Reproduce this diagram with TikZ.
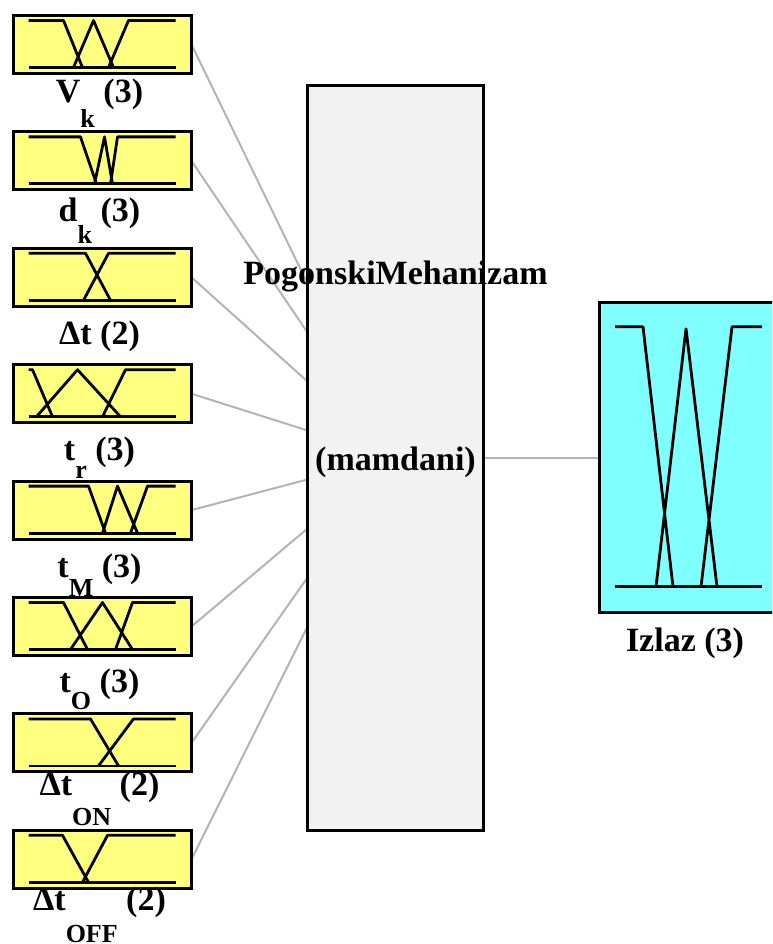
\documentclass[tikz,border=0pt]{standalone}
\usepackage{fontspec}
\setmainfont{Liberation Serif}
\usetikzlibrary{positioning,backgrounds}
\definecolor{mfyellow}{RGB}{255,255,128}
\definecolor{mfcyan}{RGB}{128,255,255}
\definecolor{fisgray}{RGB}{242,242,242}
\definecolor{linkgray}{RGB}{180,180,180}
% subscript set well below the baseline
\newcommand{\lowsub}[2]{\raisebox{-#1pt}{\fontsize{26}{26}\selectfont #2}}
% membership functions inside a box, coordinates from its north west corner
\newcommand{\mfdraw}[3]{%
  \begin{scope}[shift={(#1.north west)}]
    \draw[mf] (15,#2) -- (162,#2);
    \draw[mf] #3;
  \end{scope}}

\begin{document}
\begin{tikzpicture}[x=1pt, y=-1pt, node distance=58.4pt,
    inbox/.style={draw, line width=3pt, fill=mfyellow, minimum width=178pt, minimum height=58pt, inner sep=0pt, outer sep=0pt},
    mf/.style={line width=2.8pt, line join=round},
    link/.style={draw=linkgray, line width=2pt},
    lbl/.style={font=\fontsize{34}{40}\selectfont\bfseries, inner sep=0pt, anchor=base}]
  \useasboundingbox (0,0) rectangle (772,944);
  \clip (0,0) rectangle (772,944);

  % inputs
  \node[inbox] (vk) at (102.5,44.5) {};
  \node[inbox, below=of vk] (dk) {};
  \node[inbox, below=of dk] (dt) {};
  \node[inbox, below=of dt] (tr) {};
  \node[inbox, below=of tr] (tM) {};
  \node[inbox, below=of tM] (tO) {};
  \node[inbox, below=of tO] (dton) {};
  \node[inbox, below=of dton] (dtoff) {};

  % rule block and output
  \node[draw, line width=3pt, fill=fisgray, minimum width=176pt, minimum height=744.5pt, inner sep=0pt, outer sep=0pt] (mech) at (395.5,457.75) {};
  \node[draw, line width=3pt, fill=mfcyan, minimum width=179pt, minimum height=310pt, inner sep=0pt, outer sep=0pt, right=115.5pt of mech] (izlaz) {};

  \mfdraw{vk}{52}{(15,5) -- (50,5) -- (69,52) (60,52) -- (80,5) -- (100,52) (95,52) -- (115,5) -- (162,5)}
  \mfdraw{dk}{52}{(15,5) -- (67,5) -- (83,52) (81,52) -- (91,5) -- (99,52) (97,52) -- (104,5) -- (162,5)}
  \mfdraw{dt}{52}{(15,5) -- (72,5) -- (97,52) (70,52) -- (95,5) -- (162,5)}
  \mfdraw{tr}{52}{(15,5) -- (19,5) -- (39,52) (23,52) -- (64,5) -- (107,52) (89,52) -- (112,5) -- (162,5)}
  \mfdraw{tM}{52}{(15,5) -- (75,5) -- (92,52) (89,52) -- (104,5) -- (124,52) (117,52) -- (134,5) -- (162,5)}
  \mfdraw{tO}{52}{(15,5) -- (50,5) -- (74,52) (57,52) -- (89,5) -- (119,52) (102,52) -- (119,5) -- (162,5)}
  \mfdraw{dton}{52}{(15,5) -- (77,5) -- (105,52) (85,52) -- (120,5) -- (162,5)}
  \mfdraw{dtoff}{52}{(15,5) -- (49,5) -- (75,52) (69,52) -- (94,5) -- (162,5)}
  \begin{scope}[shift={(izlaz.north west)}]
    \draw[mf] (16,284) -- (163,284);
    \draw[mf] (16,24) -- (44,24) -- (74,284) (57,284) -- (87,26) -- (118,284) (102,284) -- (133,24) -- (163,24);
  \end{scope}

  % labels
  \node[lbl] (vklbl) at ([shift={(-3,29)}]vk.south) {V\lowsub{25}{k} (3)};
  \node[lbl] (dklbl) at ([shift={(-3,32)}]dk.south) {d\lowsub{22}{k} (3)};
  \node[lbl] (dtlbl) at ([shift={(-3,38)}]dt.south) {Δt (2)};
  \node[lbl] (trlbl) at ([shift={(-3,38)}]tr.south) {t\lowsub{18}{r} (3)};
  \node[lbl] (tMlbl) at ([shift={(-3,38)}]tM.south) {t\lowsub{19}{M} (3)};
  \node[lbl] (tOlbl) at ([shift={(-3,37)}]tO.south) {t\lowsub{17}{O} (3)};
  \node[lbl] (dtonlbl) at ([shift={(-3,24)}]dton.south) {Δt\lowsub{30}{ON} (2)};
  \node[lbl] (dtofflbl) at ([shift={(-3,22)}]dtoff.south) {Δt\lowsub{32}{OFF} (2)};
  \node[lbl] (izlazlbl) at ([shift={(-3.5,39)}]izlaz.south) {Izlaz (3)};
  \node[lbl] (mechname) at ([shift={(0,199)}]mech.north) {PogonskiMehanizam};
  \node[lbl] (mechtype) at ([shift={(0,384.5)}]mech.north) {(mamdani)};

  % connectors
  \begin{scope}[on background layer]
    \foreach \n [count=\i from 0] in {vk,dk,dt,tr,tM,tO,dton,dtoff}
      \draw[link] (\n.east) -- ([shift={(0,{198+49*\i})}]mech.north west);
    \draw[link] (mech.east) -- (izlaz.west);
  \end{scope}
\end{tikzpicture}
\end{document}
